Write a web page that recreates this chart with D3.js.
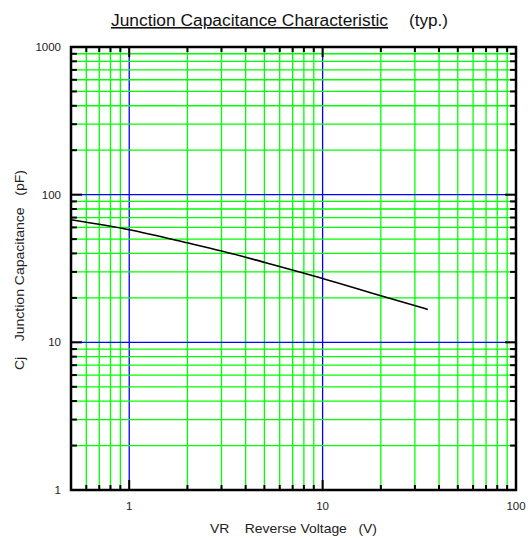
<!DOCTYPE html>
<html><head><meta charset="utf-8">
<script src="https://cdn.jsdelivr.net/npm/d3@7"></script>
<style>body{margin:0;background:#fff}text{font-family:"Liberation Sans",Arial,sans-serif}</style>
</head><body>
<svg id="c" width="531" height="538"></svg>
<script>
const voltage = [0.5, 1, 2, 3, 5, 10, 20, 35];
const capacitance = [67.6, 57.9, 47.2, 41.6, 34.8, 27.1, 20.7, 16.7];
const xTickLabels = [1, 10, 100];
const yTickLabels = [1, 10, 100, 1000];
const title = "Junction Capacitance Characteristic";
const titleNote = "(typ.)";
const xLabel = "VR    Reverse Voltage   (V)";
const yLabel = "Cj    Junction Capacitance   (pF)";

const svg = d3.select("#c");
const L = 71, R = 516, T = 47, B = 490;
const x = d3.scaleLog().domain([0.5, 100]).range([L, R]);
const y = d3.scaleLog().domain([1, 1000]).range([B, T]);

function minors(lo, hi) {
  const out = [];
  for (let d = Math.pow(10, Math.floor(Math.log10(lo))); d < hi; d *= 10)
    for (let k = 1; k <= 9; k++) { const v = +(k * d).toPrecision(3); if (v >= lo && v <= hi) out.push(v); }
  return out;
}
const isMajor = v => Math.abs(Math.log10(v) - Math.round(Math.log10(v))) < 1e-9;
const xs = minors(0.5, 100).filter(v => v > 0.5 && v < 100);
const ys = minors(1, 1000).filter(v => v > 1 && v < 1000);

const grid = svg.append("g").attr("class", "grid");
grid.selectAll("line.gx").data(xs).join("line").attr("class", "gx")
  .attr("x1", d => x(d)).attr("x2", d => x(d))
  .attr("y1", T).attr("y2", B)
  .style("stroke", d => isMajor(d) ? "#0000ff" : "#00ff00").style("stroke-width", 1.3);
grid.selectAll("line.gy").data(ys).join("line").attr("class", "gy")
  .attr("y1", d => y(d)).attr("y2", d => y(d))
  .attr("x1", L).attr("x2", R)
  .style("stroke", d => isMajor(d) ? "#0000ff" : "#00ff00").style("stroke-width", 1.3);

// inside ticks on all four sides
const tickLen = d => isMajor(d) ? 10 : 5;
const ax = svg.append("g").attr("class", "ticks").style("stroke", "#000").style("stroke-width", 2);
ax.selectAll("line.tb").data(xs).join("line").attr("class", "tb")
  .attr("x1", d => x(d)).attr("x2", d => x(d)).attr("y1", B).attr("y2", d => B - tickLen(d));
ax.selectAll("line.tt").data(xs).join("line").attr("class", "tt")
  .attr("x1", d => x(d)).attr("x2", d => x(d)).attr("y1", T).attr("y2", d => T + tickLen(d));
ax.selectAll("line.tl").data(ys).join("line").attr("class", "tl")
  .attr("y1", d => y(d)).attr("y2", d => y(d)).attr("x1", L).attr("x2", d => L + tickLen(d) + 1);
ax.selectAll("line.tr").data(ys).join("line").attr("class", "tr")
  .attr("y1", d => y(d)).attr("y2", d => y(d)).attr("x1", R).attr("x2", d => R - tickLen(d) - 1);

// frame
svg.append("rect").attr("x", L).attr("y", T).attr("width", R - L).attr("height", B - T)
  .style("fill", "none").style("stroke", "#000").style("stroke-width", 2.5);

// curve
const line = d3.line().x(d => x(d[0])).y(d => y(d[1])).curve(d3.curveMonotoneX);
svg.append("path").datum(voltage.map((v, i) => [v, capacitance[i]]))
  .attr("d", line).style("fill", "none").style("stroke", "#000").style("stroke-width", 1.6);

// tick labels
svg.selectAll("text.xl").data(xTickLabels).join("text").attr("class", "xl")
  .attr("x", d => x(d)).attr("y", 510).attr("text-anchor", "middle")
  .attr("font-size", 11.5).attr("fill", "#222").text(d => d);
svg.selectAll("text.yl").data(yTickLabels).join("text").attr("class", "yl")
  .attr("x", 61).attr("y", d => y(d) + 4).attr("text-anchor", "end")
  .attr("font-size", 11.5).attr("fill", "#222").text(d => d);

// title
svg.append("text").attr("x", 111).attr("y", 26)
  .attr("font-size", 16).attr("fill", "#111").attr("text-decoration", "underline")
  .attr("textLength", 277).attr("lengthAdjust", "spacingAndGlyphs").text(title);
svg.append("text").attr("x", 409).attr("y", 26)
  .attr("font-size", 16).attr("fill", "#111")
  .attr("textLength", 39).attr("lengthAdjust", "spacingAndGlyphs").text(titleNote);

// axis titles
svg.append("text").attr("x", 210).attr("y", 533)
  .attr("font-size", 13).attr("fill", "#222").style("white-space", "pre")
  .attr("textLength", 167).attr("lengthAdjust", "spacingAndGlyphs").text(xLabel);
svg.append("text").attr("transform", "translate(24,370) rotate(-90)")
  .attr("font-size", 13).attr("fill", "#222").style("white-space", "pre")
  .attr("textLength", 200).attr("lengthAdjust", "spacingAndGlyphs").text(yLabel);
</script>
</body></html>
